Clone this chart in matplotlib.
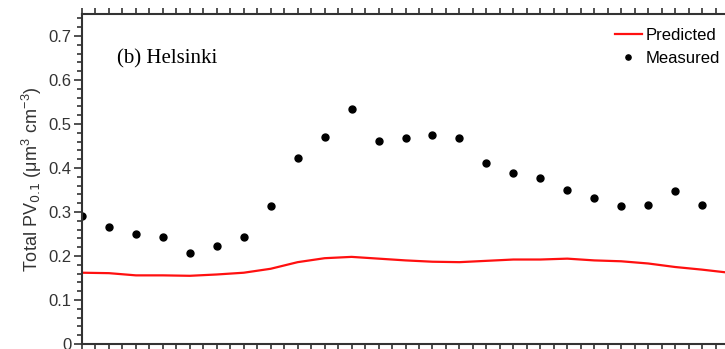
import matplotlib.pyplot as plt
from matplotlib.ticker import MultipleLocator

hours = list(range(24))
measured = [0.290, 0.267, 0.251, 0.243, 0.207, 0.222, 0.244, 0.313, 0.423, 0.471,
            0.533, 0.462, 0.468, 0.474, 0.468, 0.411, 0.389, 0.378, 0.349, 0.332,
            0.314, 0.317, 0.348, 0.315]
pred_hours = list(range(25))
predicted = [0.162, 0.161, 0.156, 0.156, 0.155, 0.158, 0.162, 0.171, 0.186, 0.195,
             0.198, 0.194, 0.190, 0.187, 0.186, 0.189, 0.192, 0.192, 0.194, 0.190,
             0.188, 0.183, 0.175, 0.169, 0.162]

plt.rcParams['font.family'] = ['Liberation Sans', 'DejaVu Sans']

fig = plt.figure(figsize=(7.25, 3.49), dpi=100)
W, H = 725, 349
left, right, top, bottom = 82, 729, 14, 344
ax = fig.add_axes([left / W, (H - bottom) / H, (right - left) / W, (bottom - top) / H])

ax.plot(pred_hours, predicted, color='#ff1010', lw=1.6, label='Predicted')
ax.plot(hours, measured, 'o', color='black', ms=5, label='Measured')

ax.set_xlim(0, 24)
ax.set_ylim(0, 0.75)
ax.yaxis.set_major_locator(MultipleLocator(0.1))
ax.yaxis.set_minor_locator(MultipleLocator(0.02))
ax.xaxis.set_major_locator(MultipleLocator(0.5))
ax.set_xticklabels([])
ax.tick_params(axis='x', which='both', direction='out', top=True, length=4.5,
               width=1.2, color='#333333')
ax.tick_params(axis='y', which='major', direction='out', length=5.5, width=1.2,
               color='#333333', labelsize=12, labelcolor='#333333', pad=2)
ax.tick_params(axis='y', which='minor', direction='out', length=3.5, width=1.2,
               color='#333333')
ax.yaxis.set_major_formatter(lambda v, p: '0' if v == 0 else f'{v:.1f}')

for s in ax.spines.values():
    s.set_linewidth(1.5)
    s.set_color('#333333')

ax.set_ylabel(r'Total PV$_{0.1}$ ($\mathregular{\mu m^3\ cm^{-3}}$)', fontsize=13,
              color='#333333', labelpad=3)

ax.text(35 / 647, 0.864, '(b) Helsinki', transform=ax.transAxes,
        family='Liberation Serif', fontsize=15, va='center')

ax.legend(loc='upper left', bbox_to_anchor=(0.824, 0.958), frameon=False,
          fontsize=12, handlelength=1.6, handletextpad=0.2, labelspacing=0.47,
          borderaxespad=0, borderpad=0, markerscale=0.75)

fig.savefig('out.png', dpi=100)
